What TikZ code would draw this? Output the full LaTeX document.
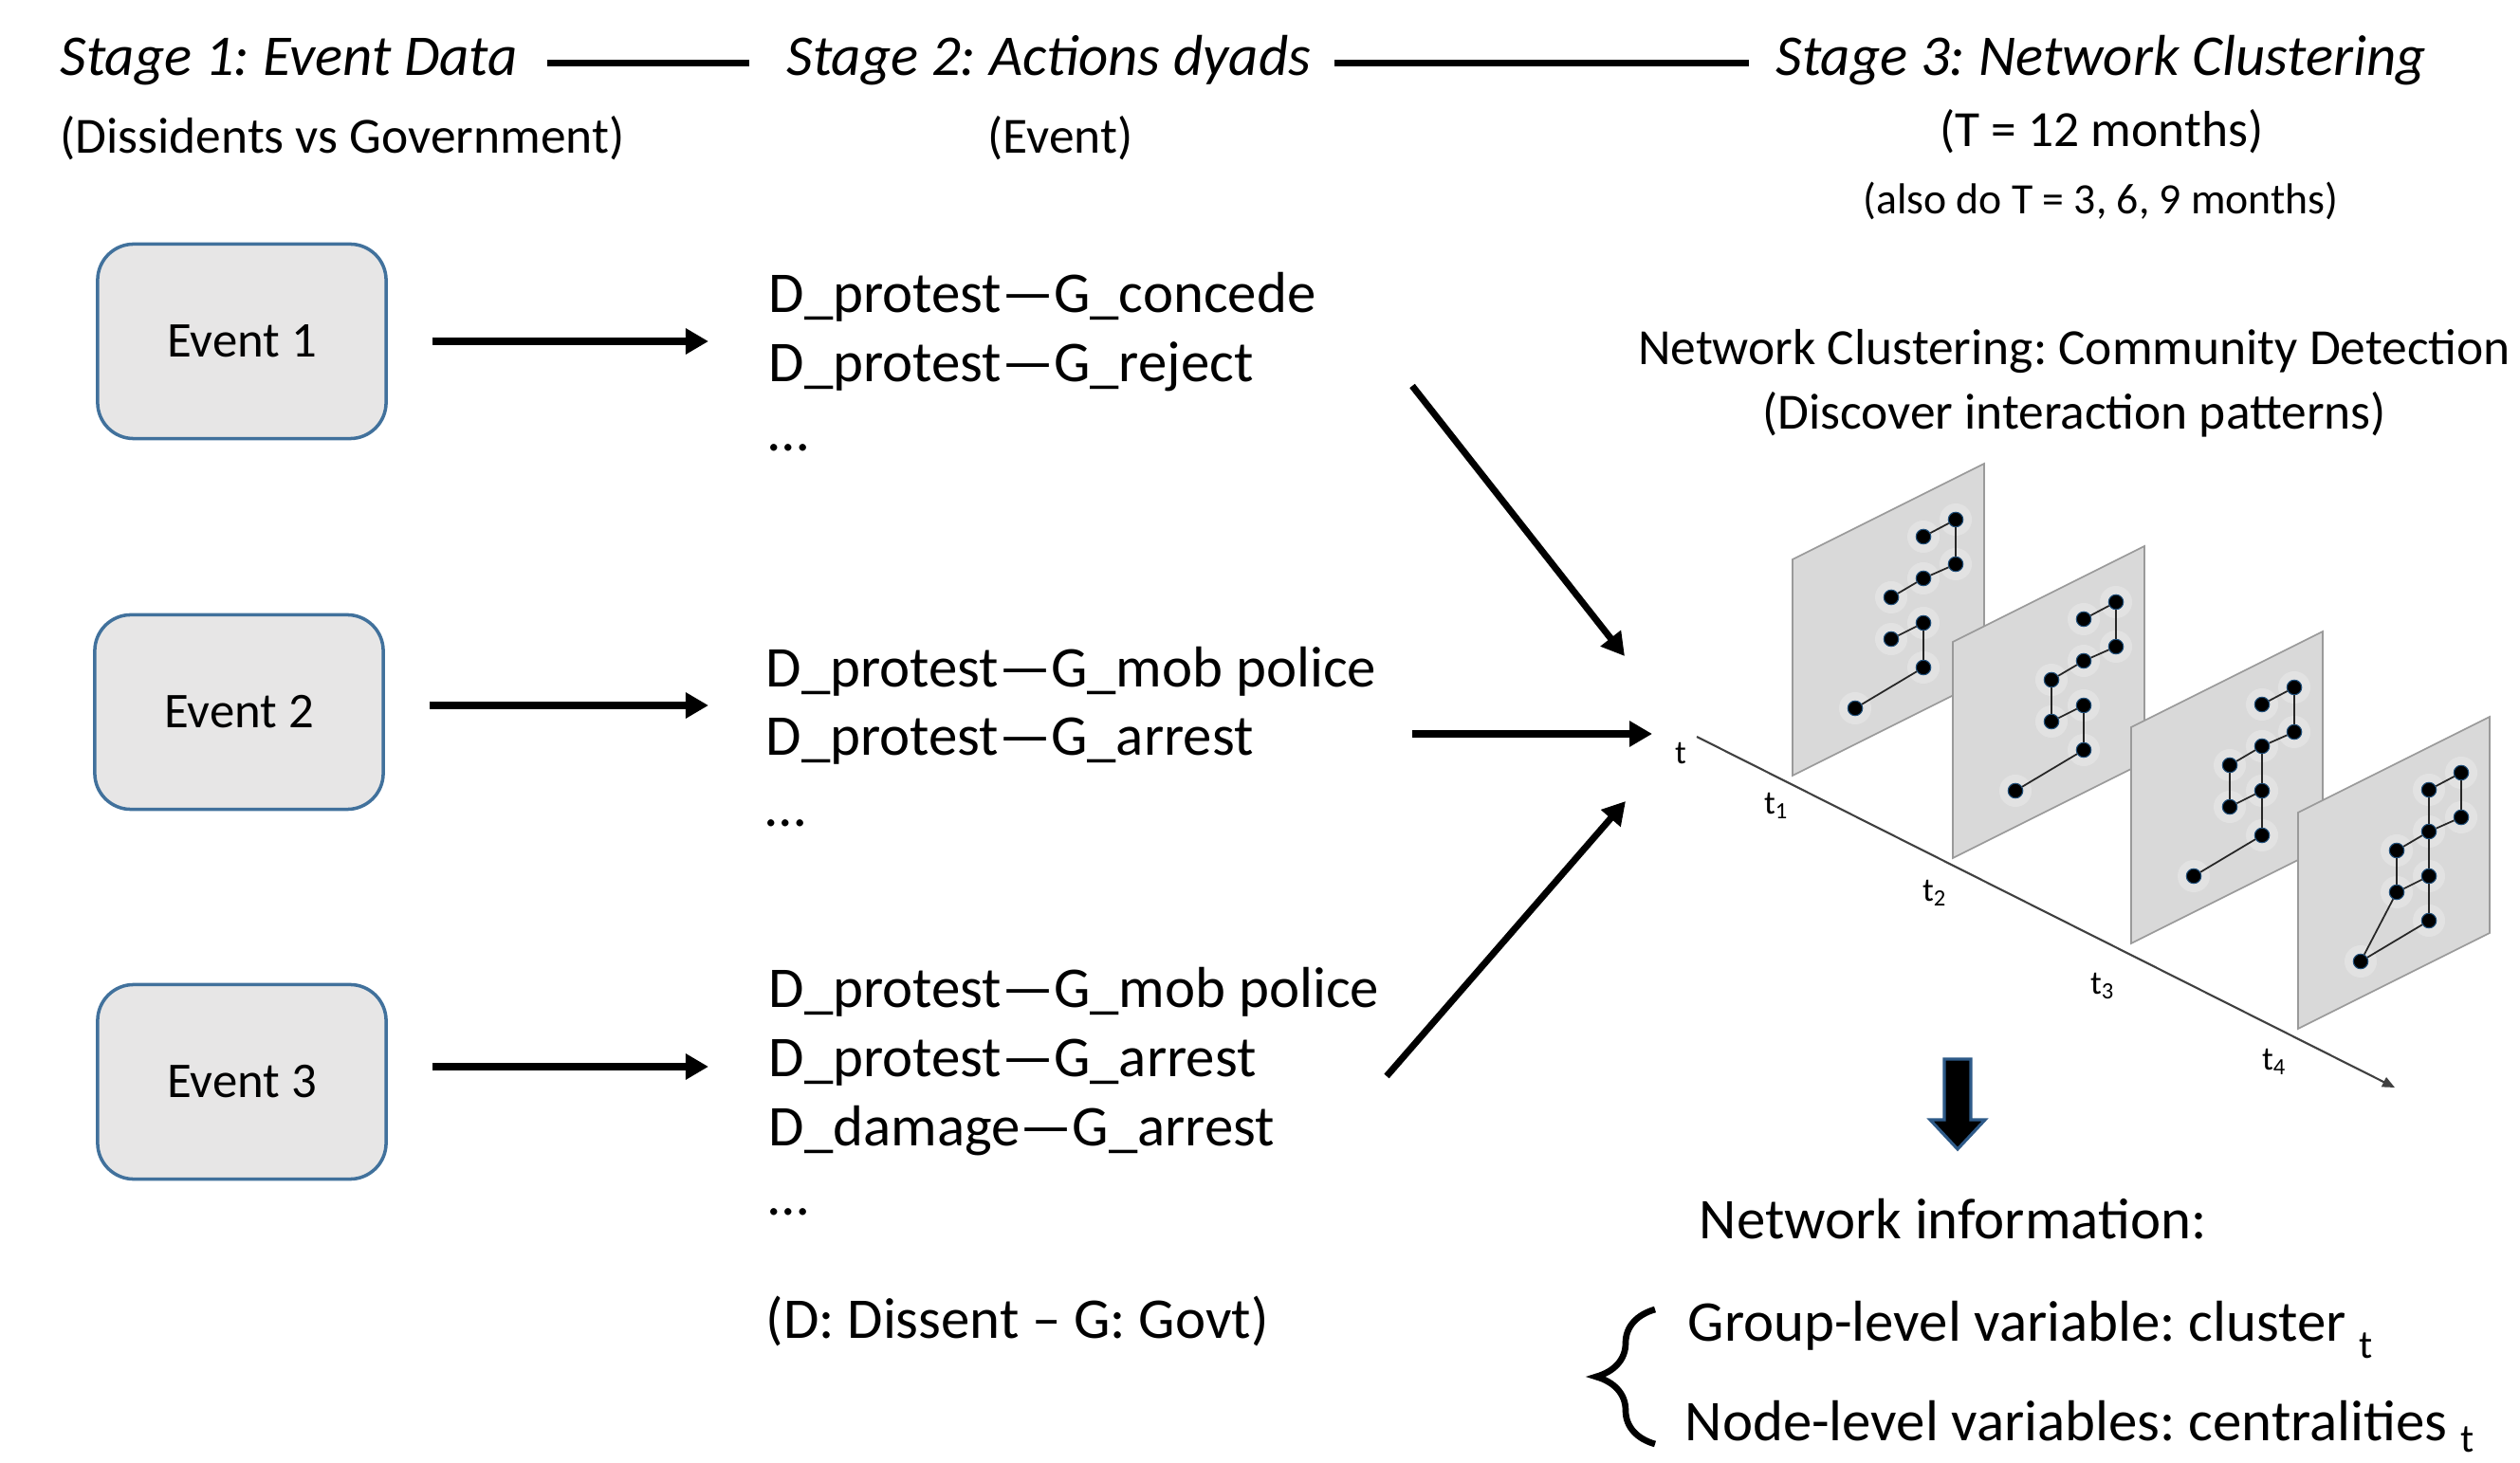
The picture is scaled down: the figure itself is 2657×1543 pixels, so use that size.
\documentclass[tikz,border=0pt]{standalone}
\usepackage{fontspec}
\setmainfont{Carlito}
\frenchspacing
\usetikzlibrary{arrows.meta,decorations.pathreplacing}

\definecolor{boxfill}{HTML}{E7E6E6}
\definecolor{boxline}{HTML}{41719C}
\definecolor{panelfill}{HTML}{D9D9D9}
\definecolor{panelline}{HTML}{9A9A9A}
\definecolor{dotline}{HTML}{1F4E79}
\definecolor{blockline}{HTML}{2E5A88}

\tikzset{
  stagetitle/.style={font=\itshape\fontsize{17.3}{21}\selectfont, anchor=base west, inner sep=0pt},
  subtitle/.style={font=\fontsize{15.2}{18}\selectfont, anchor=base, inner sep=0pt},
  dyad/.style={font=\fontsize{17.3}{21}\selectfont, anchor=base west, inner sep=0pt},
  infotext/.style={font=\fontsize{17.3}{21}\selectfont, anchor=base west, inner sep=0pt},
  eventbox/.style={draw=boxline, fill=boxfill, line width=1pt, rounded corners=0.38cm,
    minimum width=3.04cm, minimum height=2.05cm, font=\fontsize{15}{18}\selectfont},
  flow/.style={line width=2pt, -{Triangle[length=0.24cm, width=0.26cm]}},
  stageline/.style={line width=1.8pt},
  timeaxis/.style={line width=0.6pt, black!75, -{Triangle[length=0.13cm, width=0.11cm]}},
  axislabel/.style={font=\fontsize{10}{11}\selectfont, inner sep=0pt},
  netpanel/.style={fill=panelfill, draw=panelline, line width=0.5pt},
  netdot/.style={circle, fill=black, draw=dotline, line width=0.3pt, inner sep=0pt, minimum size=0.155cm},
  netedge/.style={line width=0.5pt, black!85},
}

% one time slice: name, top-left corner, edge list
\newcommand{\drawpanel}[4]{%
  \path[netpanel] (#2,#3) -- ++(202,-101) -- ++(0,228) -- ++(-202,101) -- cycle;
  \foreach \n/\px/\py in {a/172/-42, b/138/-24, c/172/5, d/138/20, e/104/40, f/138/67, g/104/84, h/138/114, i/66/157}
    \fill[white, opacity=0.25] (#2+\px, #3+\py) circle (0.17cm);
  \foreach \n/\px/\py in {a/172/-42, b/138/-24, c/172/5, d/138/20, e/104/40, f/138/67, g/104/84, h/138/114, i/66/157}
    \node[netdot] (#1\n) at (#2+\px, #3+\py) {};
  \foreach \u/\v in {#4}
    \draw[netedge] (#1\u) -- (#1\v);
}

\begin{document}
\begin{tikzpicture}[x=0.01cm, y=-0.01cm]
\useasboundingbox (0,0) rectangle (2657,1543);

\node[stagetitle] (st1) at (63,80) {Stage 1: Event Data};
\node[stagetitle] (st2) at (829,80) {Stage 2: Actions dyads};
\node[stagetitle] (st3) at (1872,80) {Stage 3: Network Clustering};
\draw[stageline, shorten <=0.3cm, shorten >=0.39cm] ([yshift=0.05cm]st1.mid east) -- ([yshift=0.05cm]st2.mid west);
\draw[stageline, shorten <=0.24cm, shorten >=0.28cm] ([yshift=0.05cm]st2.mid east) -- ([yshift=0.05cm]st3.mid west);

\node[subtitle] (sub1) at (361,162) {(Dissidents vs Government)};
\node[subtitle] (sub2) at (1118,162) {(Event)};
\node[subtitle] (sub3) at (2216,155) {(T = 12 months)};
\node[subtitle, font=\fontsize{13}{15}\selectfont] (sub4) at (2215,226) {(also do T = 3, 6, 9 months)};

\node[eventbox] (ev1) at (255,360) {Event 1};
\node[eventbox] (ev2) at (252,751) {Event 2};
\node[eventbox] (ev3) at (255,1141) {Event 3};

\node[dyad] (d11) at (810,330) {D\_protest—G\_concede};
\node[dyad] (d12) at (810,403) {D\_protest—G\_reject};
\node[dyad] (d13) at (810,476) {…};
\node[dyad] (d21) at (807,725) {D\_protest—G\_mob police};
\node[dyad] (d22) at (807,797) {D\_protest—G\_arrest};
\node[dyad] (d23) at (807,871) {…};
\node[dyad] (d31) at (810,1062) {D\_protest—G\_mob police};
\node[dyad] (d32) at (810,1135) {D\_protest—G\_arrest};
\node[dyad] (d33) at (810,1208) {D\_damage—G\_arrest};
\node[dyad] (d34) at (810,1281) {…};
\node[dyad] (key) at (807,1411) {(D: Dissent – G: Govt)};

\draw[flow, shorten <=0.47cm, shorten >=0.63cm] (ev1.east) -- (ev1.east -| d11.west);
\draw[flow, shorten <=0.47cm, shorten >=0.60cm] ([yshift=0.07cm]ev2.east) -- ([yshift=0.07cm]ev2.east -| d21.west);
\draw[flow, shorten <=0.47cm, shorten >=0.63cm] ([yshift=0.16cm]ev3.east) -- ([yshift=0.16cm]ev3.east -| d31.west);

\node[subtitle] (nc) at (2187,385) {Network Clustering: Community Detection};
\node[subtitle] (ncsub) at (2187,453) {(Discover interaction patterns)};

\coordinate (inA) at (1489,407);
\coordinate (outA) at (1713,692);
\coordinate (inB) at (1489,774);
\coordinate (outB) at (1742,774);
\coordinate (inC) at (1462,1135);
\coordinate (outC) at (1714,845);
\draw[flow] (inA) -- (outA);
\draw[flow] (inB) -- (outB);
\draw[flow] (inC) -- (outC);

\coordinate (ax0) at (1789,777);
\coordinate (ax1) at (2525,1147);
\draw[timeaxis] (ax0) -- (ax1);
\node[axislabel] (tl) at (1772,795) {t};
\node[axislabel] (tl1) at (1873,850) {t\textsubscript{1}};
\node[axislabel] (tl2) at (2040,942) {t\textsubscript{2}};
\node[axislabel] (tl3) at (2217,1040) {t\textsubscript{3}};
\node[axislabel] (tl4) at (2398,1120) {t\textsubscript{4}};

\drawpanel{P1}{1890}{590}{b/a, a/c, c/d, d/e, g/f, f/h, h/i}
\drawpanel{P2}{2059}{677}{b/a, a/c, c/d, d/e, e/g, g/f, f/h, h/i}
\drawpanel{P3}{2247}{767}{b/a, a/c, c/d, d/e, e/g, g/f, d/f, f/h, h/i}
\drawpanel{P4}{2423}{857}{b/a, a/c, c/d, b/d, d/e, d/f, e/g, g/f, f/h, h/i, g/i}

\path[fill=black, draw=blockline, line width=0.9pt] (2050,1117) -- (2078,1117) -- (2078,1181) -- (2093,1181)
  -- (2064,1212) -- (2035,1181) -- (2050,1181) -- cycle;

\node[infotext] (netinfo) at (1791,1306) {Network information:};
\node[infotext] (grp) at (1779,1414) {Group-level variable: cluster \raisebox{-0.3em}{\fontsize{12}{12}\selectfont t}};
\node[infotext] (ndl) at (1776,1519) {Node-level variables: centralities \raisebox{-0.2em}{\fontsize{12}{12}\selectfont t}};
\draw[line width=1.9pt, decorate, decoration={brace, amplitude=0.62cm}] (1745,1523) -- (1745,1381);
\end{tikzpicture}
\end{document}
